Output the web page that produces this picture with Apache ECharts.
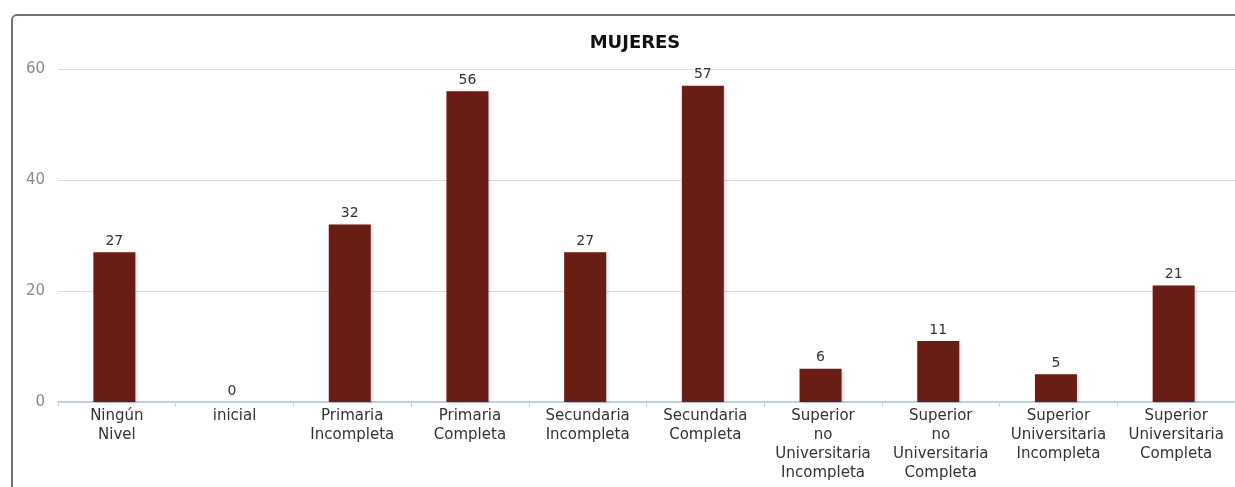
<!DOCTYPE html>
<html>
<head>
<meta charset="utf-8">
<script src="https://cdn.jsdelivr.net/npm/echarts@6/dist/echarts.min.js"></script>
<style>
html, body { margin: 0; padding: 0; background: #fff; overflow: hidden; }
#frame {
	position: absolute; left: 11px; top: 14px; width: 1300px; height: 600px;
	border: 2px solid #727272; border-radius: 6px; box-sizing: border-box;
}
#main { position: absolute; left: 0; top: 0; width: 1235px; height: 487px; }
</style>
</head>
<body>
<div id="frame"></div>
<div id="main"></div>
<script>
// datos
var categorias = ['Ningún\nNivel', 'inicial', 'Primaria\nIncompleta', 'Primaria\nCompleta',
	'Secundaria\nIncompleta', 'Secundaria\nCompleta', 'Superior\nno\nUniversitaria\nIncompleta',
	'Superior\nno\nUniversitaria\nCompleta', 'Superior\nUniversitaria\nIncompleta',
	'Superior\nUniversitaria\nCompleta'];
var mujeres = [27, 0, 32, 56, 27, 57, 6, 11, 5, 21];
var titulo = 'MUJERES';

var chart = echarts.init(document.getElementById('main'), null, { renderer: 'canvas' });
chart.setOption({
	animation: false,
	title: {
		text: titulo,
		left: 630,
		textAlign: 'center',
		top: 29,
		textStyle: {
			fontFamily: 'DejaVu Sans',
			fontSize: 18,
			fontWeight: 'bold',
			color: '#111'
		}
	},
	grid: {
		left: 58,
		right: -3,
		top: 69,
		bottom: 85
	},
	xAxis: {
		type: 'category',
		data: categorias,
		axisLine: { lineStyle: { color: '#c0d0e0', width: 2 } },
		axisTick: { show: true, length: 5, lineStyle: { color: '#c0d0e0' } },
		axisLabel: {
			interval: 0,
			margin: 5,
			fontFamily: 'DejaVu Sans',
			fontSize: 15,
			lineHeight: 19,
			color: '#333'
		}
	},
	yAxis: {
		type: 'value',
		min: 0,
		max: 60,
		interval: 20,
		axisLine: { show: false },
		axisTick: { show: false },
		splitLine: { lineStyle: { color: '#dcdcdc', width: 1 } },
		axisLabel: {
			margin: 13,
			fontFamily: 'DejaVu Sans',
			fontSize: 15,
			color: '#8c8a86'
		}
	},
	series: [{
		name: titulo,
		type: 'bar',
		data: mujeres,
		barWidth: 42,
		barGap: 0,
		itemStyle: {
			color: '#6a1d15',
			shadowColor: 'rgba(0,0,0,0.18)',
			shadowBlur: 3,
			shadowOffsetX: 2,
			shadowOffsetY: 1
		},
		label: {
			show: true,
			position: 'top',
			distance: 4,
			fontFamily: 'DejaVu Sans',
			fontSize: 14,
			color: '#333'
		}
	}, {
		// serie vacía: solo desplaza las barras un poco a la izquierda
		name: 'espacio',
		type: 'bar',
		data: [],
		barWidth: 5
	}]
});
</script>
</body>
</html>
